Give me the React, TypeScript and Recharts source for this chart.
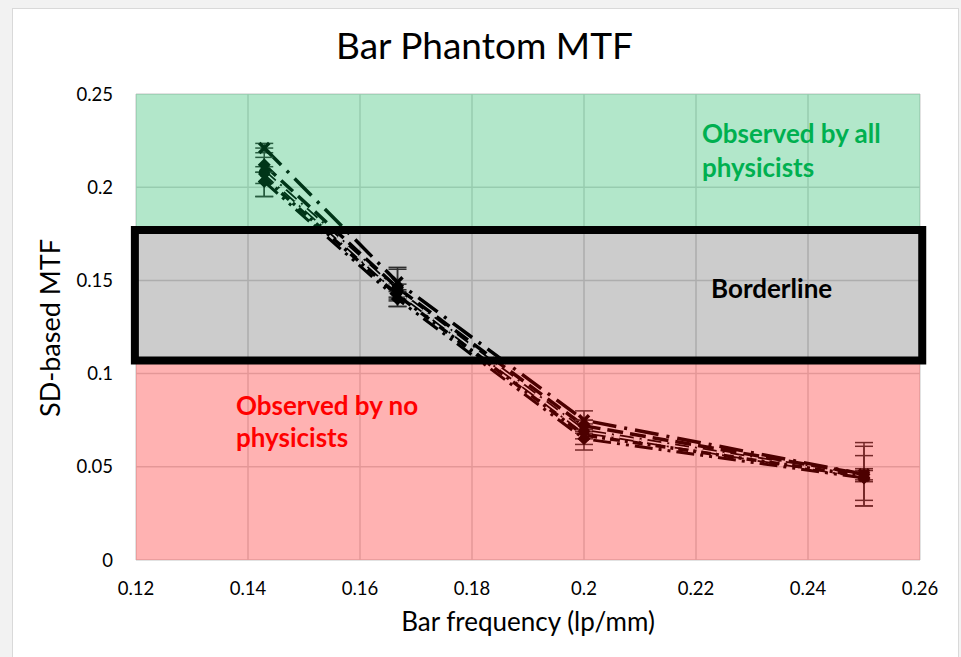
import React from "react";
import {
  CartesianGrid,
  ErrorBar,
  Line,
  LineChart,
  ReferenceArea,
  XAxis,
  YAxis,
} from "recharts";

// bar frequencies of the phantom (lp/mm)
const frequencies = [0.1429, 0.1667, 0.2, 0.25];

// SD-based MTF per observer series
const mtfA = [0.221, 0.149, 0.075, 0.046];
const mtfB = [0.212, 0.146, 0.072, 0.046];
const mtfC = [0.208, 0.144, 0.069, 0.045];
const mtfD = [0.205, 0.142, 0.067, 0.045];
const mtfE = [0.203, 0.14, 0.065, 0.044];

// +/- error per point
const errA = [0.0025, 0.008, 0.005, 0.017];
const errB = [0.004, 0.01, 0.003, 0.003];
const errC = [0.013, 0.004, 0.004, 0.016];
const errD = [0.003, 0.003, 0.008, 0.003];
const errE = [0.008, 0.004, 0.003, 0.012];

const xTicks = [0.12, 0.14, 0.16, 0.18, 0.2, 0.22, 0.24, 0.26];
const yTicks = [0, 0.05, 0.1, 0.15, 0.2, 0.25];

// visibility zones
const greenBand = [0.177, 0.25];
const borderBand = [0.107, 0.177];
const redBand = [0, 0.107];

const rows = frequencies.map((f, i) => ({
  f,
  a: mtfA[i],
  b: mtfB[i],
  c: mtfC[i],
  d: mtfD[i],
  e: mtfE[i],
  ea: errA[i],
  eb: errB[i],
  ec: errC[i],
  ed: errD[i],
  ee: errE[i],
}));

const FONT = "Lato, 'Open Sans', sans-serif";

const cross = (p: any) => {
  const { cx, cy, index } = p;
  if (cx == null || cy == null) return <g key={index} />;
  const s = 5;
  return (
    <g key={index} stroke="#000" strokeWidth={3.5}>
      <line x1={cx - s} y1={cy - s} x2={cx + s} y2={cy + s} />
      <line x1={cx - s} y1={cy + s} x2={cx + s} y2={cy - s} />
    </g>
  );
};

const diamond = (p: any) => {
  const { cx, cy, index } = p;
  if (cx == null || cy == null) return <g key={index} />;
  const s = 6.5;
  return (
    <path
      key={index}
      d={`M${cx},${cy - s}L${cx + s},${cy}L${cx},${cy + s}L${cx - s},${cy}Z`}
      fill="#000"
    />
  );
};

const circle = (p: any) => {
  const { cx, cy, index } = p;
  if (cx == null || cy == null) return <g key={index} />;
  return <circle key={index} cx={cx} cy={cy} r={5.5} fill="#000" />;
};

export default function App() {
  return (
    <div
      style={{
        position: "fixed",
        left: 0,
        top: 0,
        width: 961,
        height: 657,
        background: "#f2f2f2",
        overflow: "hidden",
        fontFamily: FONT,
      }}
    >
      <div
        style={{
          position: "absolute",
          left: 12,
          top: 8,
          width: 945,
          height: 680,
          background: "#fff",
          border: "1px solid #d9d9d9",
        }}
      />
      <div
        style={{
          position: "absolute",
          left: 0,
          width: 969,
          top: 22,
          textAlign: "center",
          fontSize: 37,
          color: "#000",
        }}
      >
        Bar Phantom MTF
      </div>

      <div style={{ position: "absolute", left: 0, top: 0 }}>
        <LineChart
          width={961}
          height={657}
          data={rows}
          margin={{ top: 94, right: 41, bottom: 0, left: 0 }}
        >
          <CartesianGrid
            stroke="#d9d9d9"
            strokeWidth={1.5}
            horizontalValues={yTicks}
            verticalValues={xTicks}
          />
          <XAxis
            type="number"
            dataKey="f"
            domain={[0.12, 0.26]}
            ticks={xTicks}
            allowDataOverflow
            height={97}
            axisLine={false}
            tickLine={false}
            tickSize={0}
            tickMargin={22}
            tick={{ fontSize: 18.5, fill: "#000", fontFamily: FONT }}
            label={{
              value: "Bar frequency (lp/mm)",
              position: "insideBottom",
              offset: 26,
              style: { fontSize: 26, fill: "#000", fontFamily: FONT },
            }}
          />
          <YAxis
            type="number"
            domain={[0, 0.25]}
            ticks={yTicks}
            allowDataOverflow
            width={136}
            axisLine={false}
            tickLine={false}
            tickSize={0}
            tickMargin={23}
            tick={{ fontSize: 18.5, fill: "#000", fontFamily: FONT }}
            label={{
              content: () => (
                <text
                  x={49}
                  y={328}
                  transform="rotate(-90 49 328)"
                  textAnchor="middle"
                  dominantBaseline="central"
                  fontSize={27}
                  fontFamily={FONT}
                  fill="#000"
                >
                  SD-based MTF
                </text>
              ),
            }}
          />

          <Line
            dataKey="a"
            stroke="#000"
            strokeWidth={3.5}
            strokeDasharray="24 8 3 8"
            dot={cross}
            isAnimationActive={false}
          >
            <ErrorBar dataKey="ea" direction="y" width={9} stroke="#3a3a3a" strokeWidth={1.5} />
          </Line>
          <Line
            dataKey="b"
            stroke="#000"
            strokeWidth={3.5}
            strokeDasharray="16 7"
            dot={diamond}
            isAnimationActive={false}
          >
            <ErrorBar dataKey="eb" direction="y" width={9} stroke="#3a3a3a" strokeWidth={1.5} />
          </Line>
          <Line
            dataKey="c"
            stroke="#000"
            strokeWidth={5}
            strokeDasharray="14 6 2 6"
            dot={circle}
            isAnimationActive={false}
          >
            <ErrorBar dataKey="ec" direction="y" width={9} stroke="#3a3a3a" strokeWidth={1.5} />
          </Line>
          <Line
            dataKey="c"
            stroke="#fff"
            strokeWidth={1.5}
            strokeDasharray="14 6 2 6"
            dot={false}
            isAnimationActive={false}
          />
          <Line
            dataKey="d"
            stroke="#000"
            strokeWidth={3.5}
            strokeDasharray="10 5 3 5"
            dot={cross}
            isAnimationActive={false}
          >
            <ErrorBar dataKey="ed" direction="y" width={9} stroke="#3a3a3a" strokeWidth={1.5} />
          </Line>
          <Line
            dataKey="e"
            stroke="#000"
            strokeWidth={3}
            strokeDasharray="18 6 3 6 3 6"
            dot={diamond}
            isAnimationActive={false}
          >
            <ErrorBar dataKey="ee" direction="y" width={9} stroke="#3a3a3a" strokeWidth={1.5} />
          </Line>

          <ReferenceArea
            y1={greenBand[0]}
            y2={greenBand[1]}
            fill="#00b050"
            fillOpacity={0.3}
            stroke="none"
            zIndex={1000}
          />
          <ReferenceArea
            y1={redBand[0]}
            y2={redBand[1]}
            fill="#ff0000"
            fillOpacity={0.3}
            stroke="none"
            zIndex={1000}
          />
          <ReferenceArea
            x1={0.1198}
            x2={0.2604}
            y1={borderBand[0]}
            y2={borderBand[1]}
            ifOverflow="visible"
            fill="#000"
            fillOpacity={0.2}
            stroke="#000"
            strokeWidth={8}
            zIndex={1000}
          />
        </LineChart>
      </div>

      <div
        style={{
          position: "absolute",
          left: 702,
          top: 116,
          fontSize: 26,
          lineHeight: "34px",
          fontWeight: 700,
          color: "#00b050",
        }}
      >
        Observed by all
        <br />
        physicists
      </div>
      <div
        style={{
          position: "absolute",
          left: 711,
          top: 271,
          fontSize: 26,
          lineHeight: "34px",
          fontWeight: 700,
          color: "#000",
        }}
      >
        Borderline
      </div>
      <div
        style={{
          position: "absolute",
          left: 236,
          top: 389,
          fontSize: 26,
          lineHeight: "32px",
          fontWeight: 700,
          color: "#ff0000",
        }}
      >
        Observed by no
        <br />
        physicists
      </div>
    </div>
  );
}
